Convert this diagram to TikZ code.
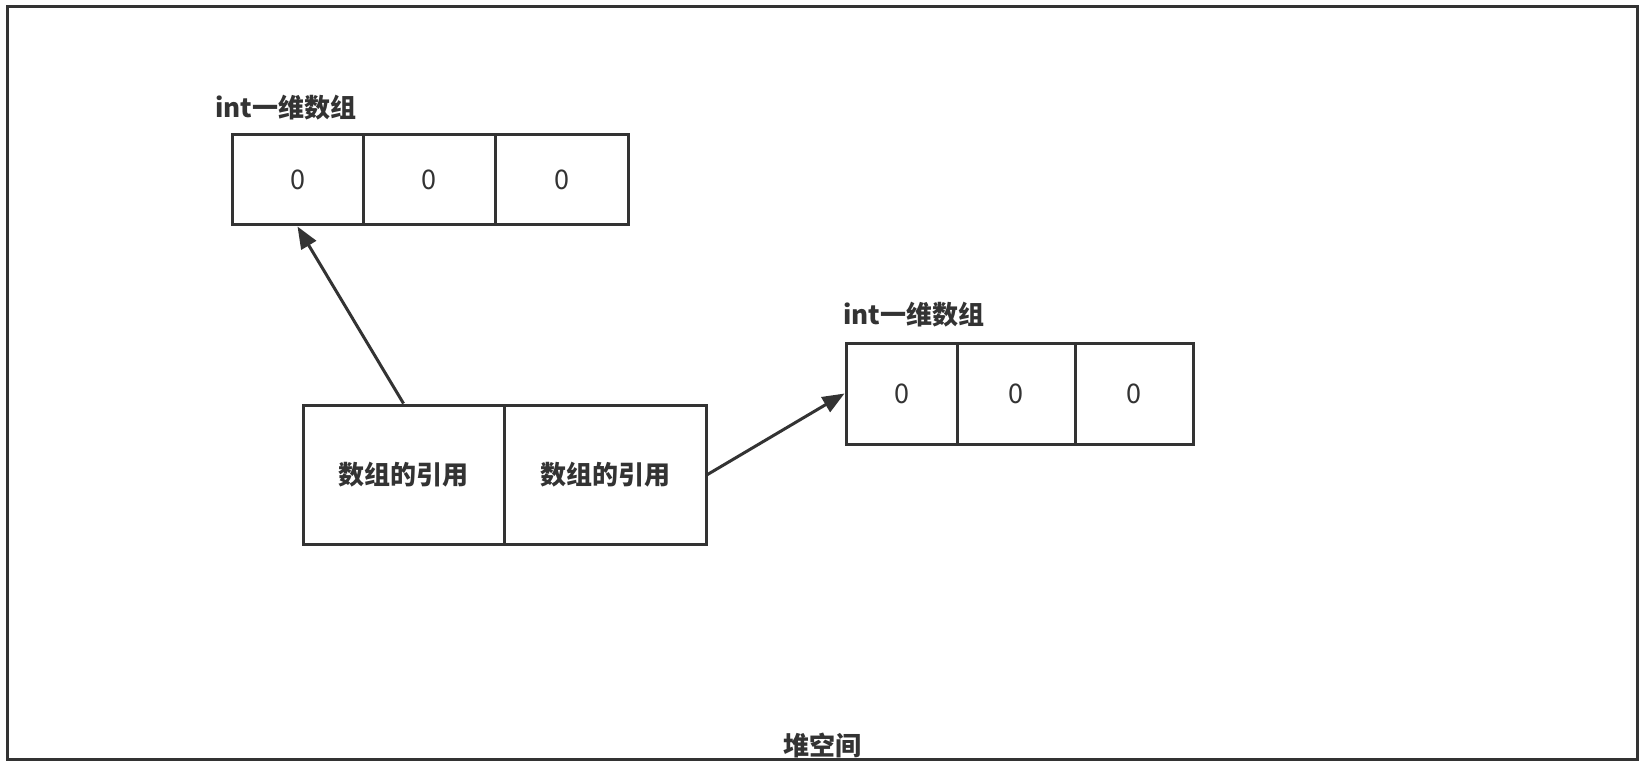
\documentclass[tikz,border=0pt]{standalone}
\usepackage{fontspec}
\setmainfont{Noto Sans CJK SC}
\usetikzlibrary{arrows.meta}
\definecolor{ink}{HTML}{333333}
\begin{document}
\begin{tikzpicture}[x=1pt,y=-1pt,
  frame/.style={draw=ink, line width=3pt, inner sep=0pt},
  cell/.style={draw=ink, line width=3pt, inner sep=0pt, text=ink, font=\fontsize{27}{32}\selectfont},
  refbox/.style={draw=ink, line width=3pt, inner sep=0pt, text=ink, font=\fontsize{26}{31}\selectfont\bfseries},
  lbl/.style={inner sep=0pt, text=ink, font=\fontsize{26}{31}\selectfont\bfseries},
  conn/.style={draw=ink, line width=3pt, -{Triangle[length=22pt,width=17pt]}}
]
\useasboundingbox[fill=white] (0,0) rectangle (1645,767);
% heap frame
\node[frame, minimum width=1630pt, minimum height=752pt] (heap) at (822,383) {};
\node[lbl] (heaplbl) at ([yshift=15.5pt]heap.south) {堆空间};
% top array
\node[cell, minimum width=131pt, minimum height=90pt] (a1) at (297.5,180) {0};
\node[cell, minimum width=132pt, minimum height=90pt] (a2) at (429,180) {0};
\node[cell, minimum width=133pt, minimum height=90pt] (a3) at (561.5,180) {0};
\node[lbl, anchor=west] (alabel) at (215,108) {int一维数组};
% right array
\node[cell, minimum width=111pt, minimum height=101pt] (b1) at (901.5,393.5) {0};
\node[cell, minimum width=118pt, minimum height=101pt] (b2) at (1016,393.5) {0};
\node[cell, minimum width=118pt, minimum height=101pt] (b3) at (1134,393.5) {0};
\node[lbl, anchor=west] (blabel) at (843,315) {int一维数组};
% reference boxes
\node[refbox, minimum width=201pt, minimum height=139pt] (r1) at (403.5,474.5) {数组的引用};
\node[refbox, minimum width=202pt, minimum height=139pt] (r2) at (605,474.5) {数组的引用};
% connectors
\draw[conn] (r1.north) -- (a1.south);
\draw[conn] (r2.east) -- (b1.west);
\end{tikzpicture}
\end{document}
